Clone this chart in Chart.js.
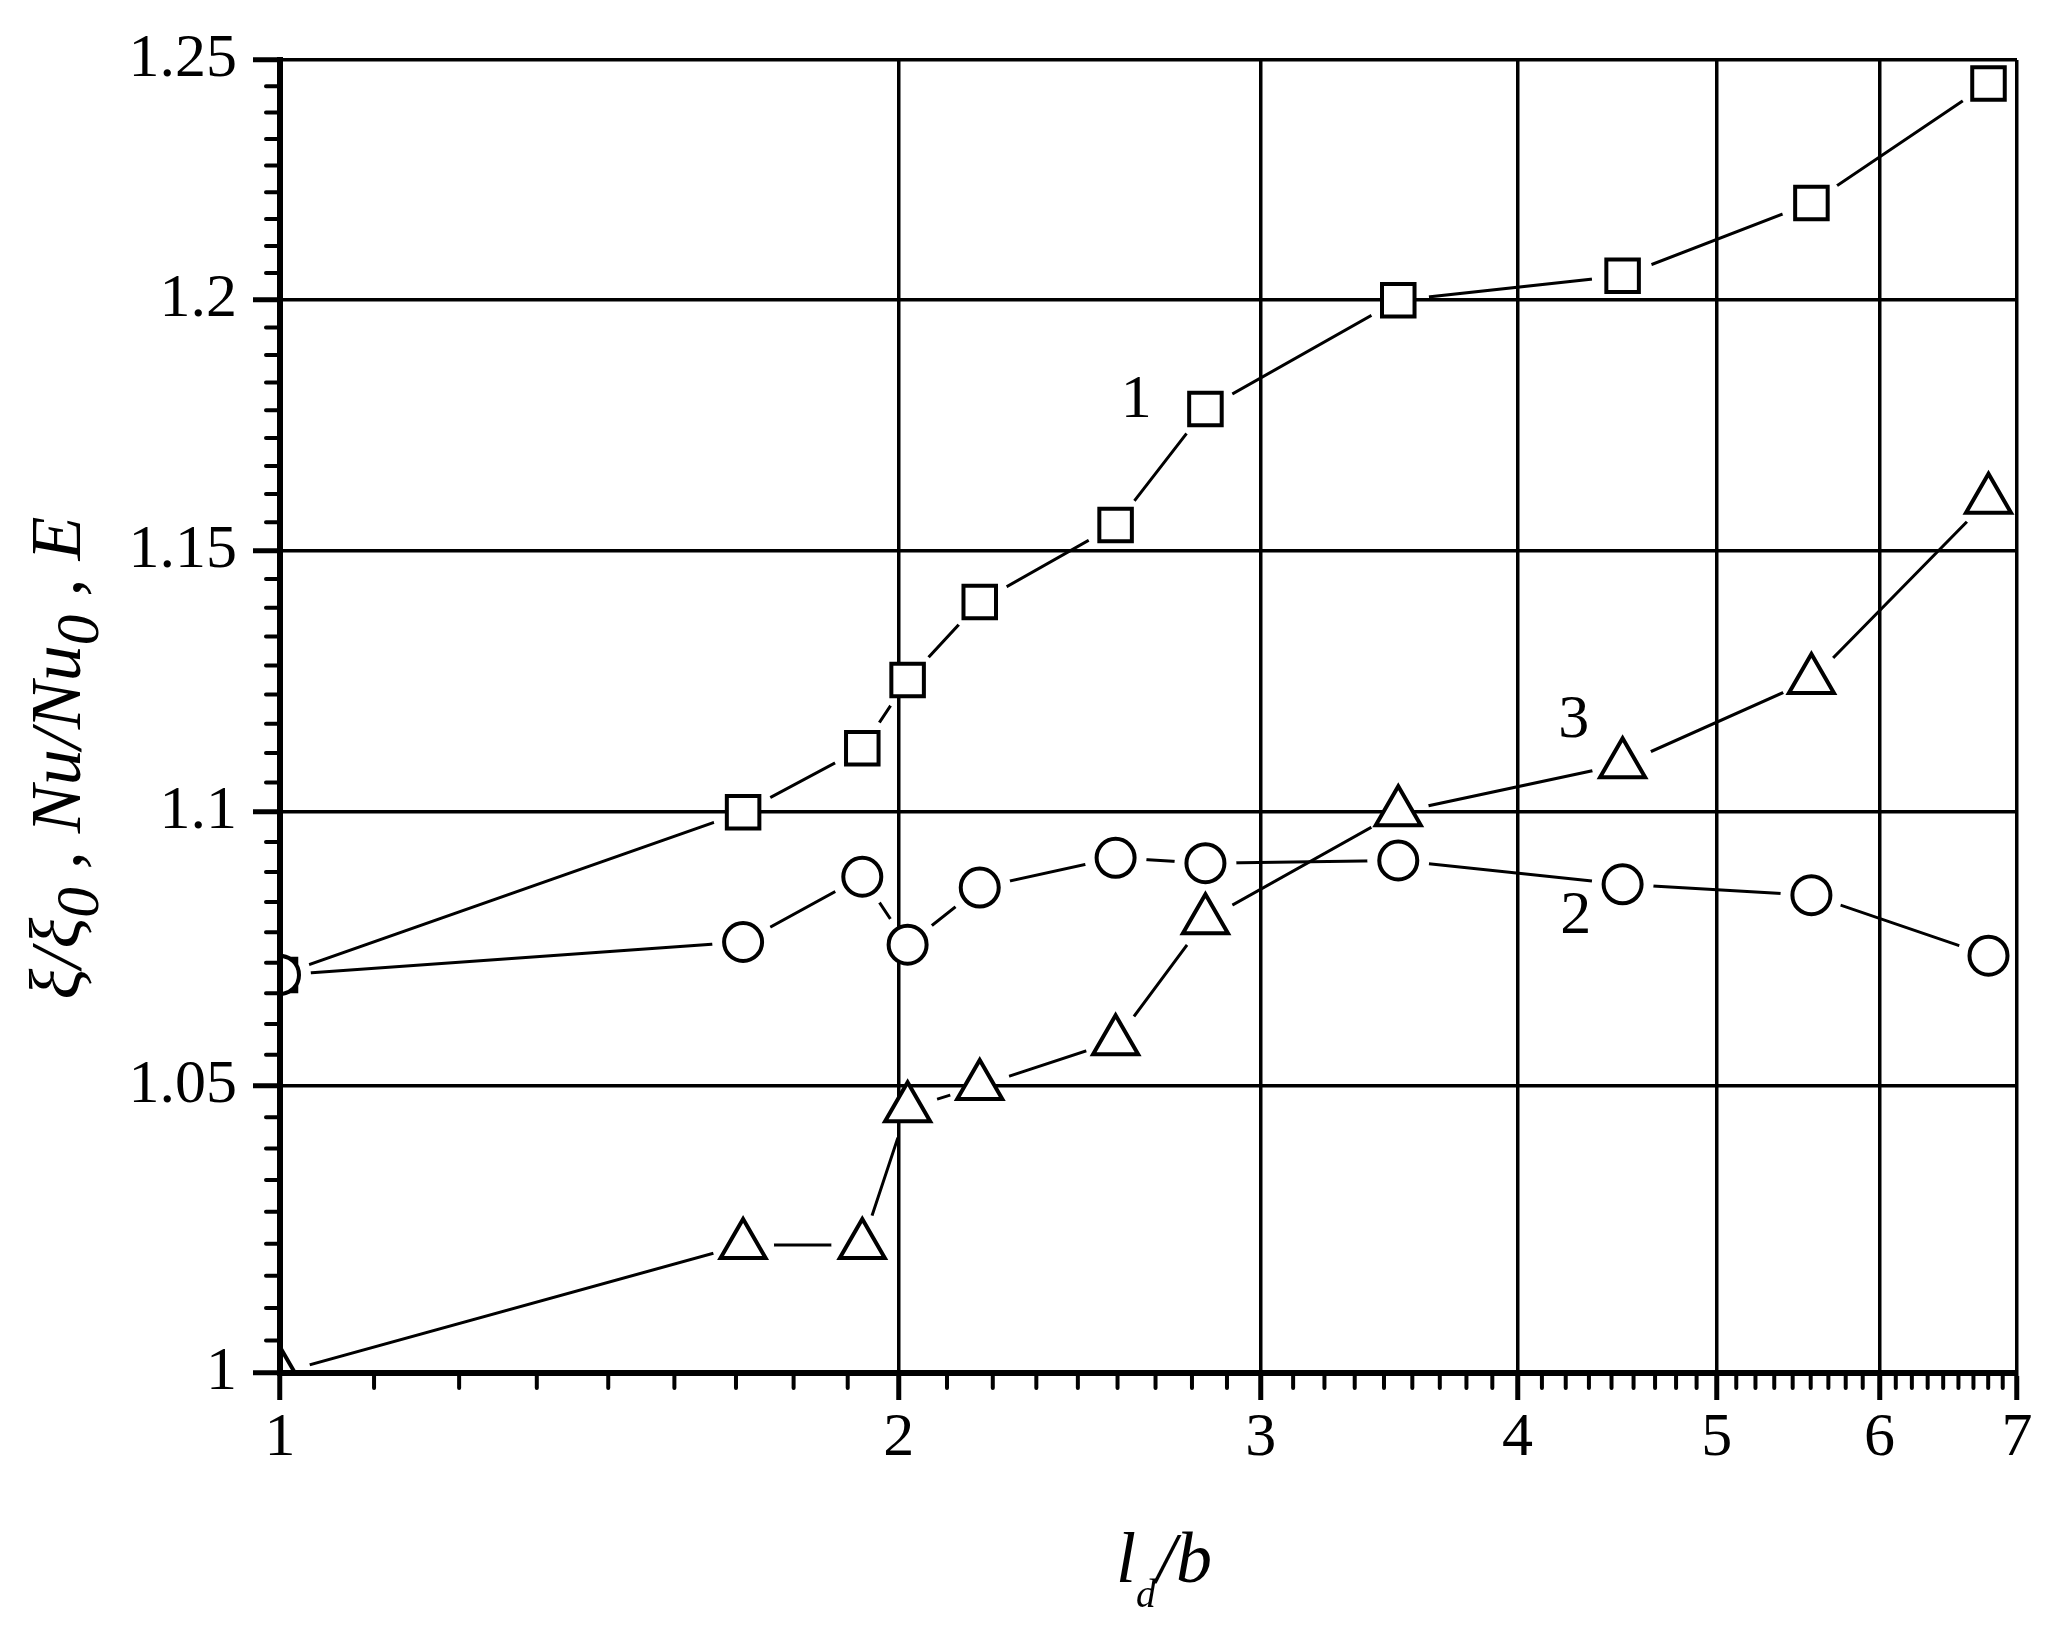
<!DOCTYPE html>
<html>
<head>
<meta charset="utf-8">
<script src="https://cdn.jsdelivr.net/npm/chart.js@4"></script>
<style>
  body { margin: 0; background: #fff; }
  canvas { display: block; }
</style>
</head>
<body>
<canvas id="myChart" width="2062" height="1635"></canvas>
<script>
//   Data
const ratio = [1, 1.68, 1.92, 2.02, 2.19, 2.55, 2.82, 3.5, 4.5, 5.56, 6.78];
const curve1 = [1.07, 1.1, 1.112, 1.125, 1.14, 1.155, 1.178, 1.2, 1.205, 1.22, 1.245];
const curve2 = [1.07, 1.076, 1.088, 1.0755, 1.086, 1.0915, 1.0905, 1.091, 1.0866, 1.0846, 1.0735];
const curve3 = [1, 1.022, 1.022, 1.046, 1.05, 1.058, 1.08, 1.1, 1.109, 1.125, 1.16];

const xTicks = [1, 2, 3, 4, 5, 6, 7];
const yTicks = [1, 1.05, 1.1, 1.15, 1.2, 1.25];
const yTickLabels = ["1", "1.05", "1.1", "1.15", "1.2", "1.25"];

const curveNames = ["1", "2", "3"];
const curveNameX = [2.61, 4.27, 4.26];
const curveNameY = [1.1797, 1.0806, 1.1172];

const SERIF = '"Liberation Serif", "Times New Roman", serif';
const GAP = 31;

const pts = (ys) => ratio.map((x, i) => ({ x: x, y: ys[i] }));

const lineSet = (ys) => ({
  data: pts(ys),
  showLine: true,
  borderColor: "#000",
  borderWidth: 3,
  pointRadius: 0,
  order: 10,
  gapped: true,
});

const markerSet = (ys, style, radius, order) => ({
  data: pts(ys),
  showLine: false,
  pointStyle: style,
  pointRadius: radius,
  pointBorderWidth: 4,
  pointBorderColor: "#000",
  pointBackgroundColor: "#fff",
  order: order,
  clip: { left: -3, top: 0, right: 0, bottom: -3 },
});

// cut the lines short around their own markers
const gapPlugin = {
  id: "gaps",
  beforeDatasetDraw(chart, args) {
    if (!chart.data.datasets[args.index].gapped) return;
    const ctx = chart.ctx;
    ctx.save();
    ctx.beginPath();
    ctx.rect(0, 0, chart.width, chart.height);
    args.meta.data.forEach((p) => {
      ctx.moveTo(p.x + GAP, p.y);
      ctx.arc(p.x, p.y, GAP, 0, Math.PI * 2);
    });
    ctx.clip("evenodd");
  },
  afterDatasetDraw(chart, args) {
    if (chart.data.datasets[args.index].gapped) chart.ctx.restore();
  },
};

function richText(ctx, parts, size, cx, baseY) {
  let total = 0;
  parts.forEach((p) => {
    p.size = size * (p.scale || 1);
    ctx.font = "italic " + p.size + "px " + SERIF;
    p.w = ctx.measureText(p.t).width;
    total += p.w + (p.kern || 0);
  });
  let x = cx - total / 2;
  ctx.textAlign = "left";
  ctx.textBaseline = "alphabetic";
  parts.forEach((p) => {
    ctx.font = "italic " + p.size + "px " + SERIF;
    ctx.fillText(p.t, x, baseY + (p.dy || 0) * size);
    x += p.w + (p.kern || 0);
  });
}

// minor ticks, axis titles and curve numbers
const decorPlugin = {
  id: "decor",
  afterDraw(chart) {
    const { ctx, chartArea } = chart;
    const x = chart.scales.x;
    const y = chart.scales.y;
    ctx.save();
    ctx.strokeStyle = "#000";
    ctx.lineWidth = 4;
    ctx.lineCap = "round";
    ctx.beginPath();
    for (let i = 0; i < xTicks.length - 1; i++) {
      const a = xTicks[i], b = xTicks[i + 1];
      for (let k = 1; k < 9; k++) {
        const px = x.getPixelForValue(a + ((b - a) * k) / 9);
        ctx.moveTo(px, chartArea.bottom + 3);
        ctx.lineTo(px, chartArea.bottom + 15);
      }
    }
    for (let i = 0; i < yTicks.length - 1; i++) {
      const a = yTicks[i], b = yTicks[i + 1];
      for (let k = 1; k < 9; k++) {
        const py = y.getPixelForValue(a + ((b - a) * k) / 9);
        ctx.moveTo(chartArea.left - 3, py);
        ctx.lineTo(chartArea.left - 14, py);
      }
    }
    ctx.stroke();

    ctx.fillStyle = "#000";

    // curve numbers
    ctx.font = "62px " + SERIF;
    ctx.textAlign = "center";
    ctx.textBaseline = "middle";
    curveNames.forEach((n, i) => {
      ctx.fillText(n, x.getPixelForValue(curveNameX[i]), y.getPixelForValue(curveNameY[i]));
    });

    // x title
    richText(ctx, [
      { t: "l" },
      { t: "d", scale: 0.55, dy: 0.35 },
      { t: "/b", kern: 0 },
    ], 72, 1164, 1582);

    // y title
    ctx.save();
    ctx.translate(80, 758);
    ctx.rotate(-Math.PI / 2);
    richText(ctx, [
      { t: "\u03be/\u03be" },
      { t: "0", scale: 0.85, dy: 0.25 },
      { t: " , " },
      { t: "Nu/Nu" },
      { t: "0", scale: 0.85, dy: 0.25 },
      { t: " , " },
      { t: "E" },
    ], 72, 0, 0);
    ctx.restore();
    ctx.restore();
  },
};

const ctx = document.getElementById("myChart");

new Chart(ctx, {
  type: "scatter",
  data: {
    datasets: [
      markerSet(curve2, "circle", 19, 1),
      markerSet(curve1, "rect", 23, 2),
      markerSet(curve3, "triangle", 26, 3),
      lineSet(curve1),
      lineSet(curve2),
      lineSet(curve3),
    ],
  },
  options: {
    responsive: false,
    animation: false,
    devicePixelRatio: 1,
    events: [],
    layout: { padding: { top: 60, right: 45, left: 0, bottom: 0 } },
    plugins: {
      legend: { display: false },
      tooltip: { enabled: false },
    },
    scales: {
      x: {
        type: "logarithmic",
        min: 1,
        max: 7,
        afterBuildTicks: (s) => {
          s.ticks = xTicks.map((v) => ({ value: v }));
        },
        afterFit: (s) => {
          s.height = 262;
          s.paddingLeft = 0;
          s.paddingRight = 0;
        },
        ticks: {
          autoSkip: false,
          maxRotation: 0,
          padding: 2,
          color: "#000",
          font: { family: SERIF, size: 62 },
          callback: (v) => String(v),
        },
        grid: {
          color: (c) => (c.tick && c.tick.value === 1 ? "rgba(0,0,0,0)" : "#000"),
          lineWidth: 3.5,
          drawTicks: true,
          tickLength: 27,
          tickColor: "#000",
          tickWidth: 5,
        },
        border: { display: true, color: "#000", width: 6 },
      },
      y: {
        type: "logarithmic",
        min: 1,
        max: 1.25,
        afterBuildTicks: (s) => {
          s.ticks = yTicks.map((v) => ({ value: v }));
        },
        afterFit: (s) => {
          s.width = 280;
          s.paddingTop = 0;
          s.paddingBottom = 0;
        },
        ticks: {
          autoSkip: false,
          padding: 16,
          color: "#000",
          font: { family: SERIF, size: 62 },
          callback: (v, i) => yTickLabels[i],
        },
        grid: {
          color: (c) => (c.tick && c.tick.value === 1 ? "rgba(0,0,0,0)" : "#000"),
          lineWidth: 3.5,
          drawTicks: true,
          tickLength: 27,
          tickColor: "#000",
          tickWidth: 5,
        },
        border: { display: true, color: "#000", width: 6 },
      },
    },
  },
  plugins: [gapPlugin, decorPlugin],
});
</script>
</body>
</html>
